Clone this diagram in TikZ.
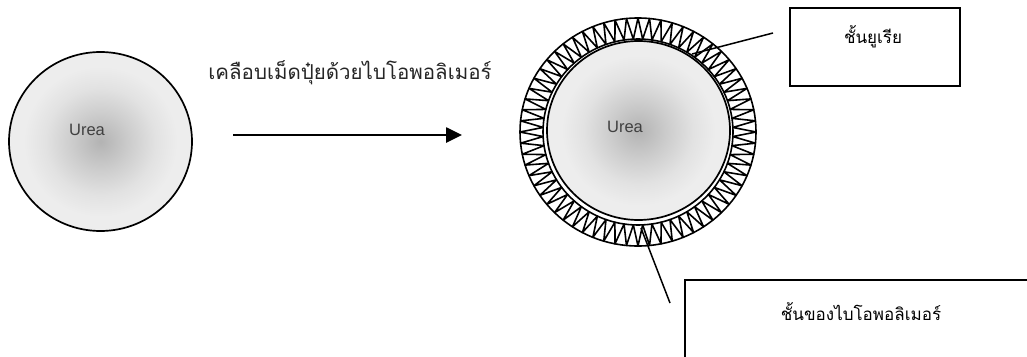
\documentclass[tikz,border=0pt]{standalone}
\usepackage{fontspec}
\setmainfont{Liberation Sans}
\newfontfamily\thaifont[Script=Thai]{Loma}
\usetikzlibrary{arrows.meta,shapes.geometric,calc}
\definecolor{ugdark}{HTML}{B3B3B3}
\definecolor{ugmid}{HTML}{CDCDCD}
\definecolor{ugmid2}{HTML}{E2E2E2}
\definecolor{uglight}{HTML}{EDEDED}
\pgfdeclareradialshading{ureashade}{\pgfpoint{0bp}{0bp}}{color(0bp)=(ugdark); color(8bp)=(ugmid); color(15bp)=(ugmid2); color(21bp)=(uglight); color(25bp)=(uglight); color(50bp)=(uglight)}
\begin{document}
\begin{tikzpicture}[x=1pt,y=-1pt,
  ball/.style={ellipse, draw=black, line width=1.7pt, shading=ureashade, minimum width=183pt, minimum height=179pt, inner sep=0pt},
  urea/.style={font=\fontsize{16.5}{18}\selectfont, text=black!75},
  thai/.style={font=\thaifont\fontsize{17}{19}\selectfont, inner sep=0pt},
  caption/.style={font=\thaifont\fontsize{20.5}{22}\selectfont, inner sep=0pt, text=black!85},
  box/.style={draw=black, line width=1.8pt, fill=white, inner sep=0pt},
  conn/.style={draw=black, line width=1.5pt},
  zig/.style={draw=black, line width=1.6pt, line join=round}]
\useasboundingbox (0,0) rectangle (1027,356);
\clip (0,0) rectangle (1027,356);
% left particle
\node[ball] (L) at (100.5,141.5) {};
\node[urea] (Lt) at (87,130) {Urea};
% arrow and caption
\node[caption] (T) at (350,73) {เคลือบเม็ดปุ๋ยด้วยไบโอพอลิเมอร์};
\coordinate (a1) at (233,135);
\coordinate (a2) at (462,135);
\draw[line width=2.6pt, -{Triangle[length=16pt,width=15pt]}] (a1) -- (a2);
% coated particle
\def\cx{638}
\def\cy{132}
\draw[zig] ({\cx+118},\cy) \foreach \i in {1,...,127} { -- ({\cx+(106.5+11.5*cos(180*mod(\i,2)))*cos(2.8125*\i)},{\cy+(103.5+10.5*cos(180*mod(\i,2)))*sin(2.8125*\i)}) } -- cycle;
\draw[zig] (\cx,\cy) ellipse [x radius=118pt, y radius=114pt];
\draw[zig] (\cx,\cy) ellipse [x radius=95pt, y radius=93pt];
\node[ball] (R) at (638.5,130.5) {};
\node[urea] (Rt) at (625,127) {Urea};
% boxes
\node[box, minimum width=170pt, minimum height=78pt] (B1) at (875,47) {};
\node[thai] (B1t) at (873,37) {ชั้นยูเรีย};
\node[box, minimum width=352pt, minimum height=100pt] (B2) at (861,330) {};
\node[thai] (B2t) at (861,312) {ชั้นของไบโอพอลิเมอร์};
% leader lines
\coordinate (k1) at (773,33);
\coordinate (k1e) at (692,54);
\coordinate (k2) at (641,228);
\coordinate (k2e) at (670,303);
\draw[conn] (k1) -- (k1e);
\draw[conn] (k2) -- (k2e);
\end{tikzpicture}
\end{document}
